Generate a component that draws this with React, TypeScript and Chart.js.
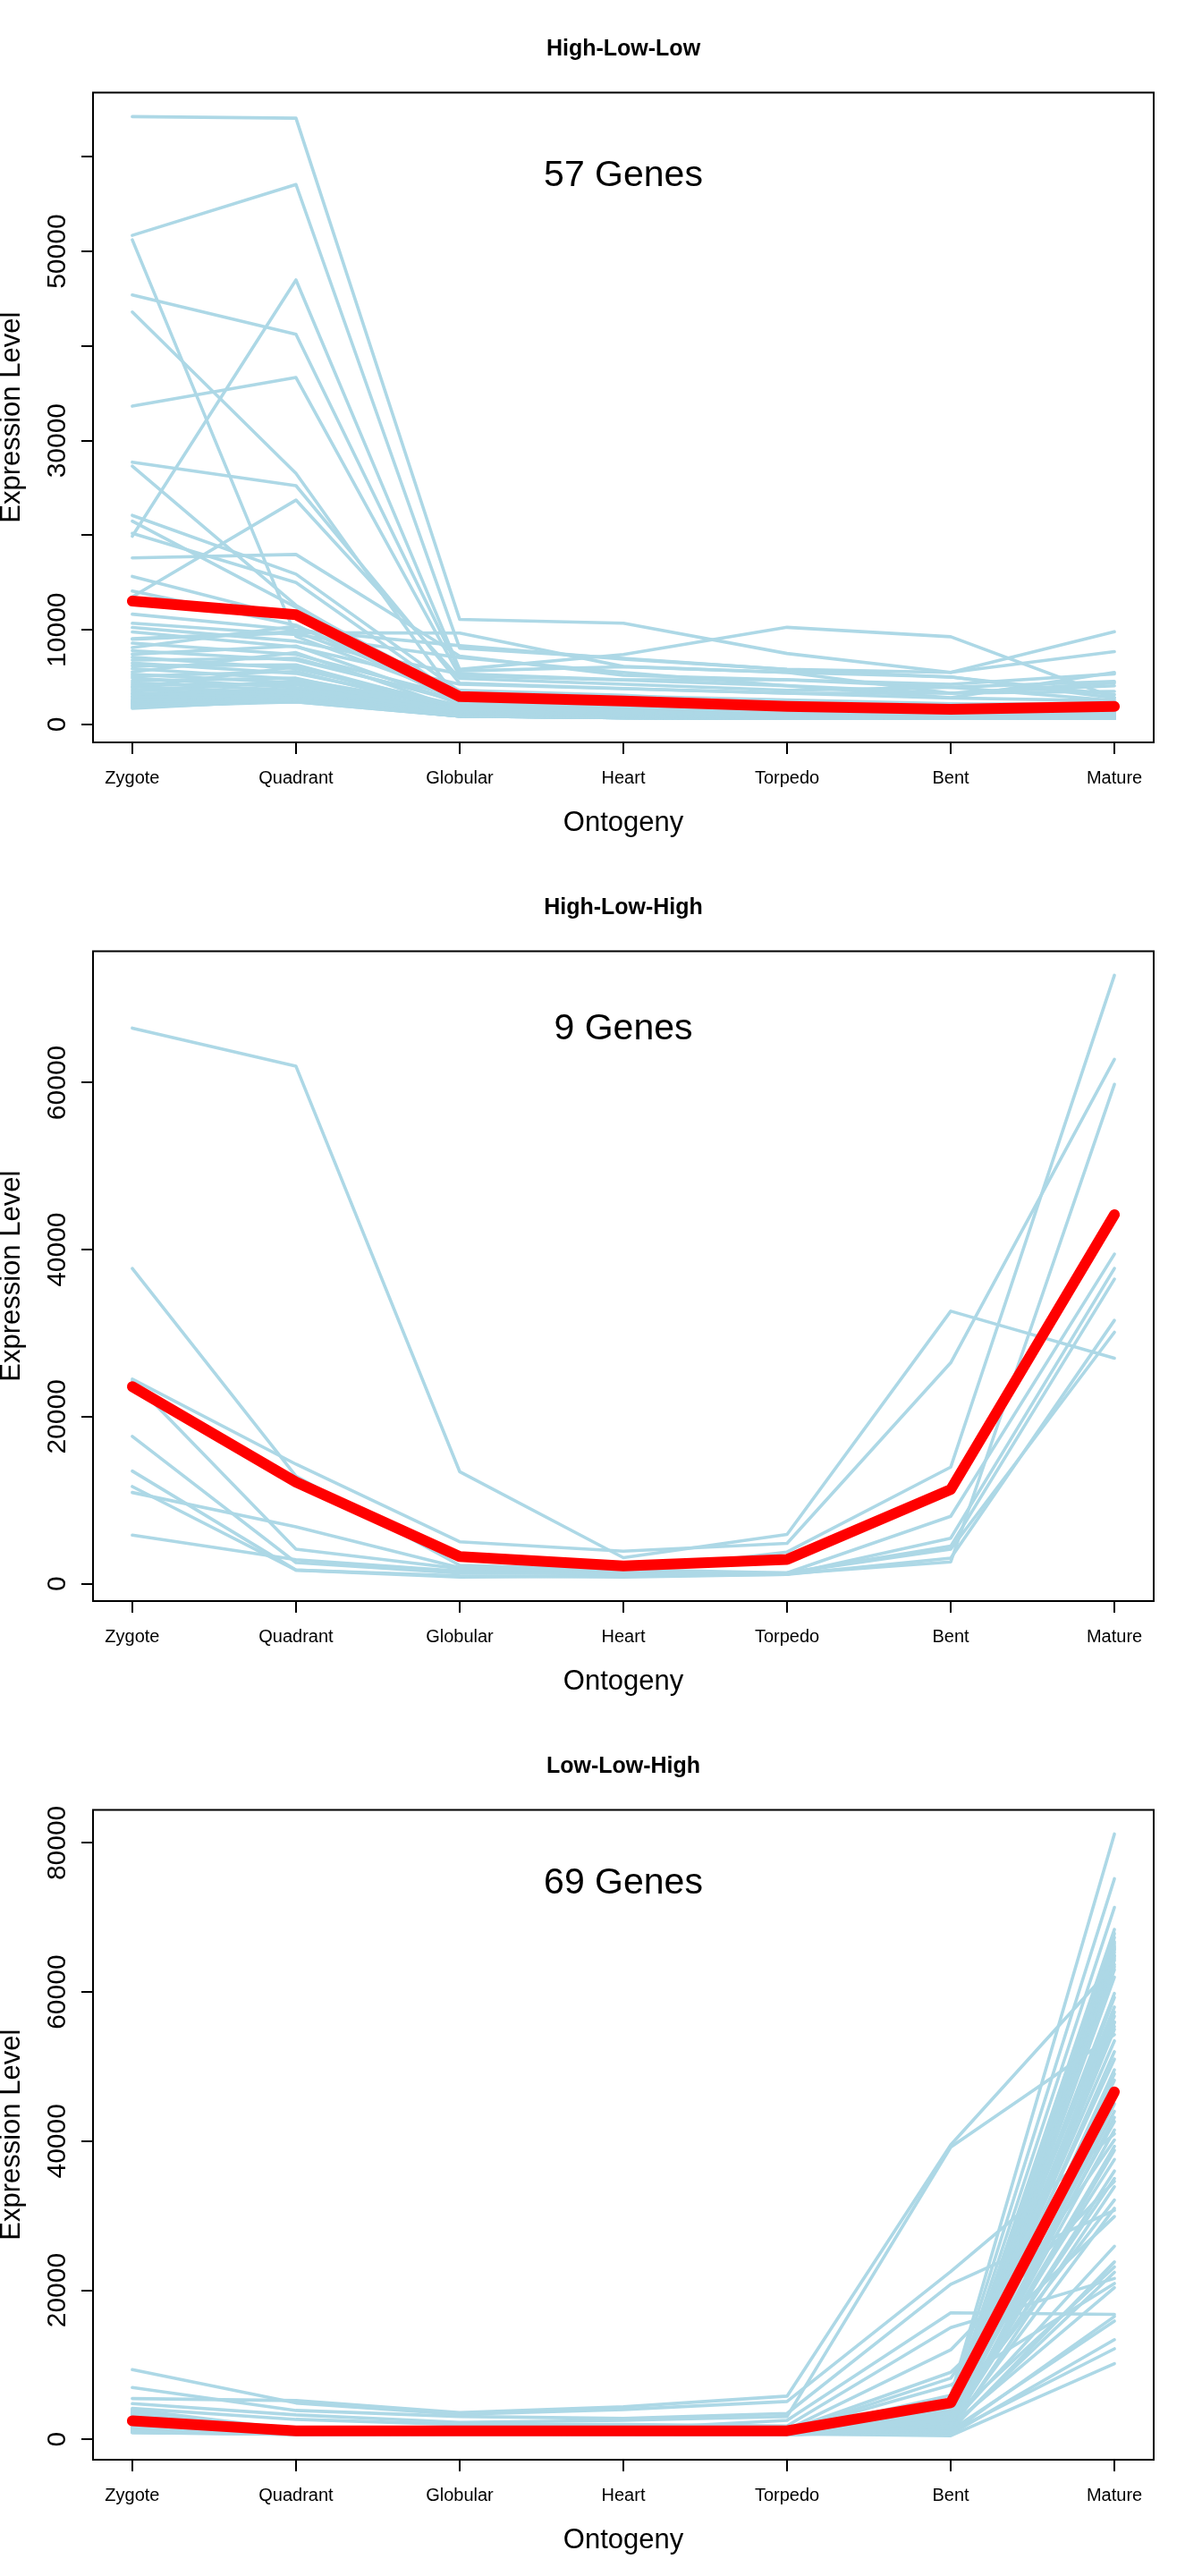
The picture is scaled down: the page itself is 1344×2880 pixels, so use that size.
import React, { useEffect, useRef } from "react";
import { Chart, registerables } from "chart.js";

Chart.register(...registerables);

// ---------- data ----------
const stages = ["Zygote", "Quadrant", "Globular", "Heart", "Torpedo", "Bent", "Mature"];

const hllTitle = "High-Low-Low";
const hllCount = "57 Genes";
const hllTicks = [0, 10000, 20000, 30000, 40000, 50000, 60000];
const hllTickLabels = ["0", "10000", "", "30000", "", "50000", ""];
const hllMean = [13040, 11600, 2950, 2480, 1900, 1600, 1900];
const hllGenes = [
  [64250, 64090, 11100, 10700, 7500, 5500, 9800],
  [51700, 57080, 8060, 7000, 5800, 5000, 3150],
  [51230, 9300, 3000, 2500, 2000, 1800, 1500],
  [45400, 41250, 5660, 6100, 5500, 5030, 2800],
  [43600, 26540, 2300, 1800, 1500, 1300, 1200],
  [33650, 36680, 5140, 4700, 4100, 3300, 4400],
  [27730, 25240, 4360, 3800, 3300, 2800, 2500],
  [27300, 12600, 2500, 2100, 1700, 1500, 1300],
  [19900, 46990, 5820, 7400, 10270, 9270, 2830],
  [22100, 15890, 3500, 3000, 2600, 2200, 2000],
  [21500, 12400, 3200, 2700, 2200, 1900, 1700],
  [20200, 15000, 2800, 2400, 2000, 1700, 1500],
  [17600, 17970, 7230, 5190, 4720, 4250, 5350],
  [13500, 23720, 4870, 4250, 3620, 3930, 4560],
  [15650, 11200, 2600, 2200, 1800, 1500, 1300],
  [14100, 10500, 2400, 2000, 1600, 1400, 1200],
  [9000, 9700, 9670, 6130, 5500, 3300, 4090],
  [11660, 10000, 8330, 6910, 5820, 5500, 7700],
  [10700, 9500, 7070, 5500, 4090, 2830, 5500],
  [10250, 8800, 5350, 4720, 4720, 3930, 2520],
  [9780, 8200, 4250, 3780, 3300, 3300, 3500],
  [9070, 9800, 3400, 2900, 2400, 2100, 2300],
  [8600, 7400, 2900, 2500, 2000, 1800, 2100],
  [8130, 10400, 3600, 3100, 2200, 1900, 1800],
  [7800, 6800, 2600, 2200, 1700, 1500, 1600],
  [7430, 8300, 2200, 1800, 1500, 1300, 1400],
  [7100, 5900, 2000, 1700, 1300, 1200, 1300],
  [6800, 7000, 2400, 2000, 1600, 1400, 1200],
  [6490, 5400, 1900, 1600, 1200, 1100, 1100],
  [6200, 6300, 1700, 1500, 1100, 1000, 1000],
  [5900, 4800, 1800, 1400, 1000, 900, 950],
  [5550, 7600, 1600, 1300, 1000, 950, 1000],
  [5300, 4400, 1500, 1200, 900, 850, 900],
  [5100, 5600, 1400, 1200, 900, 800, 850],
  [4900, 3900, 1300, 1100, 850, 800, 800],
  [4600, 4900, 1250, 1000, 800, 750, 800],
  [4400, 3600, 1200, 1000, 800, 750, 750],
  [4200, 4200, 1150, 950, 750, 700, 750],
  [4000, 3300, 1100, 900, 750, 700, 700],
  [3900, 6100, 1500, 1200, 900, 800, 900],
  [3670, 3100, 1050, 900, 700, 700, 700],
  [3500, 4600, 1000, 850, 700, 650, 700],
  [3300, 2900, 1000, 850, 650, 650, 650],
  [3200, 3700, 950, 800, 650, 650, 650],
  [3000, 2700, 950, 800, 650, 650, 650],
  [2900, 3500, 900, 800, 650, 650, 650],
  [2730, 2600, 900, 750, 650, 650, 650],
  [2600, 3000, 900, 750, 650, 650, 650],
  [2500, 2500, 880, 750, 650, 650, 650],
  [2400, 2800, 880, 700, 650, 650, 650],
  [2300, 2400, 880, 700, 650, 650, 650],
  [2200, 3200, 900, 700, 670, 670, 670],
  [2100, 2500, 880, 700, 650, 650, 650],
  [2000, 2600, 880, 700, 650, 650, 650],
  [1900, 2400, 880, 700, 650, 650, 650],
  [1800, 2500, 900, 720, 670, 650, 670],
  [1700, 2600, 900, 720, 670, 650, 670],
];

const hlhTitle = "High-Low-High";
const hlhCount = "9 Genes";
const hlhTicks = [0, 20000, 40000, 60000];
const hlhTickLabels = ["0", "20000", "40000", "60000"];
const hlhMean = [23600, 12170, 3240, 2130, 2890, 11280, 44200];
const hlhGenes = [
  [66540, 61970, 13420, 3110, 5900, 32640, 27000],
  [37750, 12880, 2200, 1700, 1300, 4490, 36470],
  [24500, 14310, 5020, 3890, 4830, 26460, 62800],
  [24300, 4130, 1810, 1500, 3790, 13960, 72860],
  [17640, 2520, 1280, 1200, 1300, 8060, 39470],
  [13490, 1630, 950, 800, 1100, 5450, 37750],
  [11630, 1630, 800, 900, 1100, 3060, 31540],
  [10920, 6810, 1900, 1300, 1300, 4130, 30110],
  [5810, 2880, 1500, 1200, 1200, 2600, 59800],
];

const llhTitle = "Low-Low-High";
const llhCount = "69 Genes";
const llhTicks = [0, 20000, 40000, 60000, 80000];
const llhTickLabels = ["0", "20000", "40000", "60000", "80000"];
const llhMean = [2480, 1150, 1150, 1150, 1150, 4900, 46600];
const llhGenes = [
  [5480, 5200, 3600, 4360, 5800, 39500, 63700],
  [4800, 3280, 2275, 2555, 3070, 39200, 54280],
  [9360, 4880, 3360, 4000, 5080, 22520, 40980],
  [6960, 3880, 3070, 2800, 3480, 20800, 30720],
  [3280, 1470, 1500, 1400, 2555, 16980, 16760],
  [4160, 2680, 2000, 2000, 1800, 15000, 21580],
  [2900, 1200, 1100, 1200, 1300, 12000, 34600],
  [2600, 1100, 1000, 1100, 1200, 9000, 29890],
  [3600, 1300, 1200, 1100, 1100, 7300, 20910],
  [3000, 1000, 900, 900, 1000, 5900, 81200],
  [2200, 900, 1000, 900, 900, 5400, 75200],
  [1800, 800, 900, 800, 800, 4500, 71350],
  [2500, 900, 1000, 1000, 900, 3800, 68400],
  [1500, 700, 800, 800, 700, 2600, 67860],
  [2000, 800, 900, 900, 800, 3100, 67300],
  [3900, 1200, 1300, 1200, 1100, 4200, 66750],
  [1200, 700, 800, 700, 700, 1800, 66500],
  [2700, 1000, 1100, 1000, 1000, 2900, 66200],
  [1700, 800, 900, 800, 800, 2200, 66000],
  [3300, 1100, 1200, 1100, 1000, 3500, 65800],
  [900, 700, 700, 700, 650, 1500, 65640],
  [2300, 900, 1000, 900, 900, 2700, 65300],
  [1400, 750, 850, 800, 750, 2000, 64900],
  [3100, 1000, 1100, 1000, 1000, 3300, 64810],
  [1100, 700, 750, 700, 700, 1700, 64500],
  [2100, 850, 950, 900, 850, 2400, 64260],
  [1600, 750, 850, 800, 750, 1900, 63400],
  [2800, 950, 1050, 1000, 950, 3000, 63000],
  [1300, 700, 800, 700, 700, 1600, 62000],
  [2400, 900, 1000, 950, 900, 2500, 59820],
  [1900, 800, 900, 850, 800, 2100, 59270],
  [3500, 1150, 1250, 1150, 1050, 3700, 58000],
  [1000, 700, 700, 700, 650, 1400, 57330],
  [2600, 950, 1050, 1000, 950, 2800, 56770],
  [1500, 750, 850, 800, 750, 1800, 56000],
  [2000, 850, 950, 900, 850, 2300, 55940],
  [4000, 1300, 1400, 1300, 1200, 4400, 55390],
  [1200, 700, 750, 700, 700, 1500, 55000],
  [2200, 900, 1000, 900, 900, 2600, 53450],
  [1700, 800, 900, 800, 800, 2000, 52000],
  [3000, 1000, 1100, 1000, 1000, 3200, 51000],
  [900, 670, 700, 700, 650, 1200, 49570],
  [2500, 900, 1000, 950, 900, 2700, 49010],
  [1400, 750, 800, 750, 750, 1700, 48180],
  [3200, 1050, 1150, 1100, 1000, 3400, 47000],
  [1800, 800, 900, 850, 800, 2100, 45000],
  [2300, 900, 1000, 900, 900, 2500, 44000],
  [1100, 700, 750, 700, 700, 1300, 43190],
  [2700, 950, 1050, 1000, 950, 2900, 42640],
  [1600, 800, 850, 800, 800, 1800, 41500],
  [3400, 1100, 1200, 1100, 1050, 8200, 40150],
  [2000, 850, 950, 900, 850, 2200, 39310],
  [1300, 700, 800, 700, 700, 1500, 38760],
  [2800, 1000, 1100, 1000, 950, 3000, 37540],
  [1700, 800, 900, 800, 800, 1900, 36000],
  [2400, 900, 1000, 950, 900, 2400, 34990],
  [1000, 680, 700, 700, 650, 1100, 33880],
  [3600, 1150, 1250, 1150, 1100, 3600, 32110],
  [1500, 750, 850, 800, 750, 1600, 31000],
  [2100, 850, 950, 900, 850, 2000, 25900],
  [1200, 700, 750, 700, 700, 1200, 23800],
  [2900, 1000, 1100, 1000, 1000, 2800, 23130],
  [1800, 800, 900, 850, 800, 1500, 22410],
  [2500, 900, 1000, 950, 900, 1800, 20360],
  [1400, 750, 800, 750, 700, 900, 16480],
  [3800, 1250, 1300, 1250, 1150, 1200, 15870],
  [1100, 700, 750, 700, 700, 700, 13370],
  [2200, 850, 950, 900, 850, 1000, 12150],
  [1600, 750, 850, 800, 750, 500, 10160],
];

const xTitle = "Ontogeny";
const yTitle = "Expression Level";

// ---------- layout ----------
const W = 1344;
const H = 960;
const BOX = { left: 104, right: 1290, top: 103.5, bottom: 830 };
const FONT = "'Liberation Sans', Arial, Helvetica, sans-serif";
const BLUE = "#ADD8E6";
const RED = "#FF0000";

type Panel = {
  title: string;
  count: string;
  countBaseline: number;
  ticks: number[];
  tickLabels: string[];
  mean: number[];
  genes: number[][];
};

const panels: Panel[] = [
  { title: hllTitle, count: hllCount, countBaseline: 208, ticks: hllTicks, tickLabels: hllTickLabels, mean: hllMean, genes: hllGenes },
  { title: hlhTitle, count: hlhCount, countBaseline: 202, ticks: hlhTicks, tickLabels: hlhTickLabels, mean: hlhMean, genes: hlhGenes },
  { title: llhTitle, count: llhCount, countBaseline: 196.5, ticks: llhTicks, tickLabels: llhTickLabels, mean: llhMean, genes: llhGenes },
];

function decorPlugin(p: Panel) {
  return {
    id: "rdecor",
    afterDraw(chart: any) {
      const ctx = chart.ctx as CanvasRenderingContext2D;
      const a = chart.chartArea;
      const xs = chart.scales.x;
      const ys = chart.scales.y;
      const cx = (a.left + a.right) / 2;
      ctx.save();
      ctx.strokeStyle = "#000";
      ctx.lineWidth = 2;
      ctx.strokeRect(a.left, a.top, a.right - a.left, a.bottom - a.top);
      ctx.fillStyle = "#000";
      ctx.textBaseline = "alphabetic";
      ctx.textAlign = "center";
      ctx.font = `bold 25px ${FONT}`;
      ctx.fillText(p.title, cx, 61.7);
      ctx.font = `41px ${FONT}`;
      ctx.fillText(p.count, cx, p.countBaseline);
      ctx.font = `20px ${FONT}`;
      stages.forEach((s, i) => {
        ctx.fillText(s, xs.getPixelForValue(i + 1), 876);
      });
      ctx.font = `31px ${FONT}`;
      ctx.fillText(xTitle, cx, 929);
      ctx.font = `30px ${FONT}`;
      p.ticks.forEach((v, i) => {
        const lab = p.tickLabels[i];
        if (!lab) return;
        ctx.save();
        ctx.translate(72.7, ys.getPixelForValue(v));
        ctx.rotate(-Math.PI / 2);
        ctx.fillText(lab, 0, 0);
        ctx.restore();
      });
      ctx.font = `31px ${FONT}`;
      ctx.save();
      ctx.translate(22, (a.top + a.bottom) / 2);
      ctx.rotate(-Math.PI / 2);
      ctx.fillText(yTitle, 0, 0);
      ctx.restore();
      ctx.restore();
    },
  };
}

function PanelChart({ panel }: { panel: Panel }) {
  const ref = useRef<HTMLCanvasElement | null>(null);
  useEffect(() => {
    if (!ref.current) return;
    const all = panel.genes.flat().concat(panel.mean);
    const dmin = Math.min(...all);
    const dmax = Math.max(...all);
    const ext = (dmax - dmin) * 0.04;
    const toPts = (vals: number[]) => vals.map((v, i) => ({ x: i + 1, y: v }));
    const datasets: any[] = [
      { data: toPts(panel.mean), borderColor: RED, borderWidth: 12, order: 0 },
      ...panel.genes.map((g) => ({ data: toPts(g), borderColor: BLUE, borderWidth: 3.6, order: 1 })),
    ];
    const axisGrid = {
      display: true,
      drawOnChartArea: false,
      drawTicks: true,
      tickLength: 13,
      color: "#000",
      lineWidth: 2,
    };
    const chart = new Chart(ref.current, {
      type: "line",
      data: { datasets },
      options: {
        animation: false,
        responsive: false,
        devicePixelRatio: 1,
        events: [],
        layout: { padding: { top: BOX.top, right: W - BOX.right, left: 0, bottom: 0 } },
        elements: {
          point: { radius: 0, hoverRadius: 0 },
          line: { tension: 0, borderCapStyle: "round", borderJoinStyle: "round", fill: false },
        },
        plugins: { legend: { display: false }, tooltip: { enabled: false }, title: { display: false } },
        scales: {
          x: {
            type: "linear",
            min: 1 - 0.24,
            max: stages.length + 0.24,
            afterBuildTicks: (s: any) => {
              s.ticks = stages.map((_, i) => ({ value: i + 1 }));
            },
            afterFit: (s: any) => {
              s.height = H - BOX.bottom;
            },
            ticks: { display: false },
            grid: axisGrid,
            border: { display: false },
          },
          y: {
            type: "linear",
            min: dmin - ext,
            max: dmax + ext,
            afterBuildTicks: (s: any) => {
              s.ticks = panel.ticks.map((v) => ({ value: v }));
            },
            afterFit: (s: any) => {
              s.width = BOX.left;
            },
            ticks: { display: false },
            grid: axisGrid,
            border: { display: false },
          },
        },
      } as any,
      plugins: [decorPlugin(panel)],
    });
    return () => chart.destroy();
  }, [panel]);
  return (
    <canvas
      ref={ref}
      width={W}
      height={H}
      style={{ display: "block", width: W + "px", height: H + "px" }}
    />
  );
}

export default function App() {
  return (
    <div style={{ position: "absolute", left: 0, top: 0, width: W, height: H * 3, background: "#fff" }}>
      {panels.map((p, i) => (
        <PanelChart key={i} panel={p} />
      ))}
    </div>
  );
}
